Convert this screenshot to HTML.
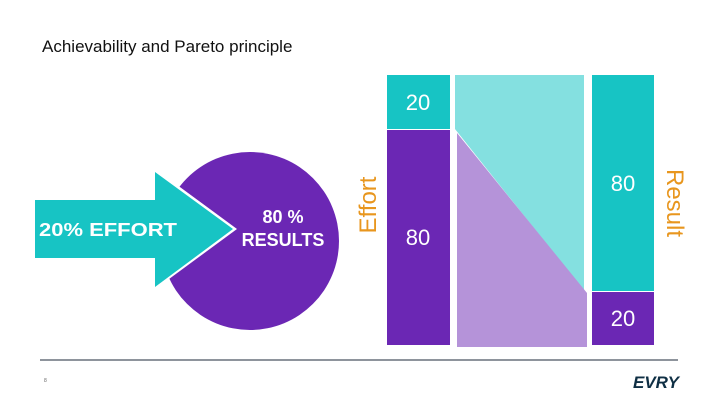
<!DOCTYPE html>
<html><head><meta charset="utf-8"><style>
body{margin:0;background:#fff;font-family:"Liberation Sans",Arial,sans-serif}
svg{display:block}
</style></head><body>
<svg width="720" height="405" viewBox="0 0 720 405">
<text x="42" y="52" font-size="17" fill="#111">Achievability and Pareto principle</text>
<g>
<circle cx="250" cy="241" r="89" fill="#6b27b4"/>
<polygon points="150,165 237,229 150,293" fill="#fff"/>
<polygon points="35,200 155,200 155,172 233,229 155,287 155,258 35,258" fill="#17c4c4"/>
<text x="108" y="236" font-size="18" font-weight="bold" fill="#fff" text-anchor="middle" textLength="138" lengthAdjust="spacingAndGlyphs">20% EFFORT</text>
<text x="283" y="223" font-size="18" font-weight="bold" fill="#fff" text-anchor="middle">80 %</text>
<text x="283" y="246" font-size="18" font-weight="bold" fill="#fff" text-anchor="middle">RESULTS</text>
</g>
<text transform="translate(376,205) rotate(-90)" font-size="24" fill="#e8961e" text-anchor="middle">Effort</text>
<text transform="translate(667,203) rotate(90)" font-size="24" fill="#e8961e" text-anchor="middle">Result</text>
<g id="chart"></g>
<line x1="40" y1="360" x2="678" y2="360" stroke="#1c2a3a" stroke-width="1"/>
<text x="44" y="382" font-size="5" fill="#666">8</text>
<text x="656" y="388" font-size="17" font-weight="bold" font-style="italic" fill="#0f2f44" text-anchor="middle">EVRY</text>
</svg>
<script>
const effortLabels=["20","80"];
const effortValues=[20,80];
const resultValues=[80,20];
const resultLabels=["80","20"];
const NS="http://www.w3.org/2000/svg";
const g=document.getElementById('chart');
const top0=75, bot=345;
const y=v=>top0+(bot-top0)*v/100;
function mk(t,a){const e=document.createElementNS(NS,t);for(const k in a)e.setAttribute(k,a[k]);g.appendChild(e);return e;}
const cTop="#17c4c4", cBot="#6b27b4";
let s1=y(effortValues[0]);
let r=mk('rect',{x:387,y:top0,width:63,height:s1-top0,fill:cTop});


r=mk('rect',{x:387,y:s1+1,width:63,height:bot-s1-1,fill:cBot});


let t=mk('text',{x:418,y:(top0+s1)/2+8,'font-size':22,fill:'#fff','text-anchor':'middle'});t.textContent=effortLabels[0];


t=mk('text',{x:418,y:(s1+bot)/2+8,'font-size':22,fill:'#fff','text-anchor':'middle'});t.textContent=effortLabels[1];


let s2=y(resultValues[0]);
r=mk('rect',{x:592,y:top0,width:62,height:s2-top0,fill:cTop});


r=mk('rect',{x:592,y:s2+1,width:62,height:bot-s2-1,fill:cBot});


t=mk('text',{x:623,y:(top0+s2)/2+8,'font-size':22,fill:'#fff','text-anchor':'middle'});t.textContent=resultLabels[0];


t=mk('text',{x:623,y:(s2+bot)/2+8,'font-size':22,fill:'#fff','text-anchor':'middle'});t.textContent=resultLabels[1];


let p=mk('polygon',{points:`455,${top0} 584,${top0} 584,${s2} 455,${s1}`,fill:'#84e0e0'});


p=mk('polygon',{points:`457,${s1+4} 587,${s2+2} 587,${bot+2} 457,${bot+2}`,fill:'#b593d9'});


</script>
</body></html>
